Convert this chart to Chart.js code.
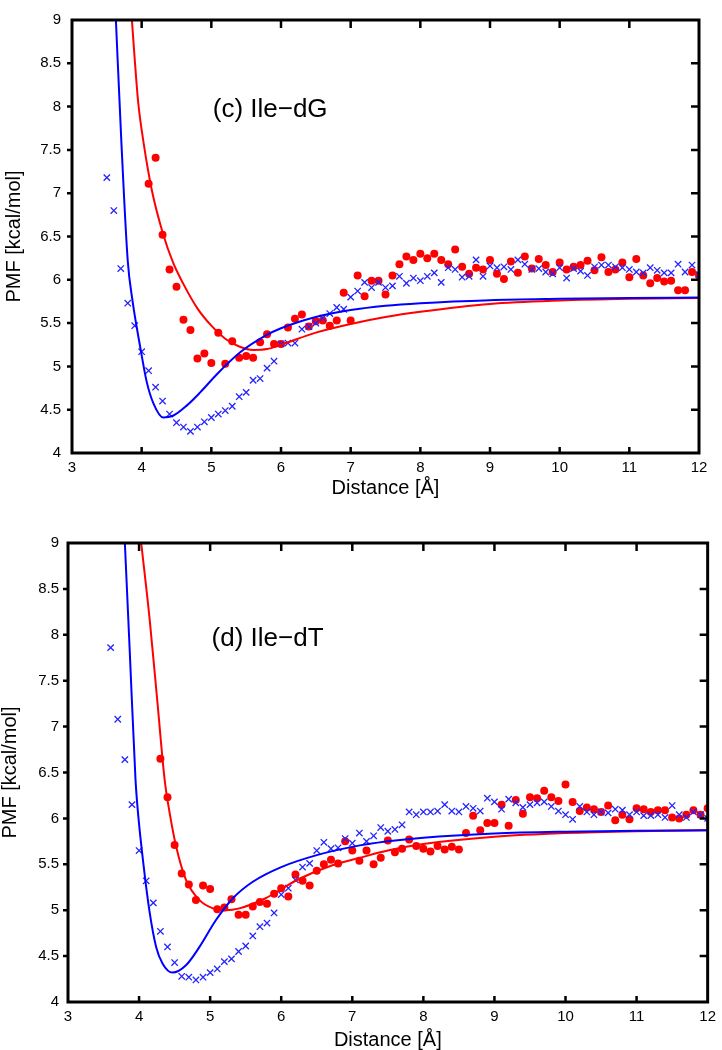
<!DOCTYPE html>
<html>
<head>
<meta charset="utf-8">
<title>PMF Ile-dG / Ile-dT</title>
<script src="https://cdn.jsdelivr.net/npm/chart.js@4.4.1/dist/chart.umd.min.js"></script>
<style>
    html, body { margin: 0; padding: 0; background: #fff; }
    .panel { position: absolute; left: 0; width: 722px; }
    #panelC { top: 0; height: 498px; }
    #panelD { top: 510px; height: 540px; }
</style>
</head>
<body>
<div class="panel" id="panelC"><canvas id="chartC"></canvas></div>
<div class="panel" id="panelD"><canvas id="chartD"></canvas></div>
<script>
// Distance grid of the sampled PMF points (Å)
const distGrid = [3.5, 3.6, 3.7, 3.8, 3.9, 4.0, 4.1, 4.2, 4.3, 4.4, 4.5, 4.6, 4.7, 4.8, 4.9,
    5.0, 5.1, 5.2, 5.3, 5.4, 5.5, 5.6, 5.7, 5.8, 5.9, 6.0, 6.1, 6.2, 6.3, 6.4, 6.5, 6.6, 6.7,
    6.8, 6.9, 7.0, 7.1, 7.2, 7.3, 7.4, 7.5, 7.6, 7.7, 7.8, 7.9, 8.0, 8.1, 8.2, 8.3, 8.4, 8.5,
    8.6, 8.7, 8.8, 8.9, 9.0, 9.1, 9.2, 9.3, 9.4, 9.5, 9.6, 9.7, 9.8, 9.9, 10.0, 10.1, 10.2,
    10.3, 10.4, 10.5, 10.6, 10.7, 10.8, 10.9, 11.0, 11.1, 11.2, 11.3, 11.4, 11.5, 11.6, 11.7,
    11.8, 11.9, 12.0];

// Tick labels
const distTicks = [3, 4, 5, 6, 7, 8, 9, 10, 11, 12];
const pmfTicks = [4, 4.5, 5, 5.5, 6, 6.5, 7, 7.5, 8, 8.5, 9];

// (c) Ile-dG : blue crosses from 3.5, red dots from 4.1
const cBlueX = distGrid;
const cBluePmf = [7.18, 6.80, 6.13, 5.73, 5.47, 5.17, 4.95, 4.76, 4.60, 4.45,
    4.35, 4.30, 4.25, 4.30, 4.36, 4.41, 4.45, 4.49, 4.54, 4.65,
    4.70, 4.84, 4.86, 4.98, 5.06, 5.26, 5.27, 5.27, 5.43, 5.46,
    5.50, 5.56, 5.61, 5.68, 5.66, 5.80, 5.87, 5.97, 5.91, 5.97,
    5.91, 5.93, 6.04, 5.96, 6.02, 5.99, 6.04, 6.08, 5.97, 6.14,
    6.12, 6.03, 6.04, 6.23, 6.04, 6.16, 6.14, 6.15, 6.12, 6.23,
    6.18, 6.12, 6.13, 6.09, 6.07, 6.14, 6.02, 6.13, 6.10, 6.05,
    6.15, 6.17, 6.17, 6.15, 6.14, 6.12, 6.09, 6.08, 6.14, 6.11,
    6.08, 6.08, 6.18, 6.09, 6.17, 6.06];
const cRedX = distGrid.slice(6);
const cRedPmf = [7.11, 7.41, 6.52, 6.12, 5.92, 5.54, 5.42, 5.09, 5.15, 5.04,
    5.39, 5.03, 5.29, 5.10, 5.12, 5.10, 5.28, 5.37, 5.26, 5.26,
    5.45, 5.55, 5.60, 5.46, 5.52, 5.53, 5.47, 5.53, 5.85, 5.53,
    6.05, 5.81, 5.99, 5.99, 5.83, 6.05, 6.18, 6.27, 6.23, 6.30,
    6.25, 6.30, 6.23, 6.18, 6.35, 6.15, 6.07, 6.14, 6.12, 6.23,
    6.07, 6.01, 6.21, 6.08, 6.27, 6.13, 6.24, 6.17, 6.09, 6.20,
    6.12, 6.15, 6.17, 6.22, 6.11, 6.26, 6.09, 6.12, 6.20, 6.03,
    6.24, 6.05, 5.96, 6.02, 5.98, 5.99, 5.88, 5.88, 6.09, 6.05];
// fitted curves
const cBlueFitX = [3.63, 3.71, 3.80, 3.87, 3.98, 4.07, 4.17, 4.31, 4.45, 4.65, 4.84, 5.08,
    5.41, 5.79, 6.0, 6.5, 7.0, 7.5, 8.0, 9.0, 10.0, 11.0, 12.0];
const cBlueFitPmf = [9.0, 7.57, 6.22, 5.75, 5.22, 4.83, 4.57, 4.41, 4.43, 4.55, 4.70, 4.91,
    5.16, 5.36, 5.44, 5.57, 5.65, 5.70, 5.73, 5.765, 5.78, 5.79, 5.795];
const cRedFitX = [3.86, 3.90, 3.95, 4.03, 4.15, 4.30, 4.45, 4.60, 4.80, 5.0, 5.2, 5.4, 5.6,
    5.8, 6.0, 6.5, 7.0, 7.5, 8.0, 9.0, 10.0, 11.0, 12.0];
const cRedFitPmf = [9.0, 8.55, 8.05, 7.57, 7.02, 6.55, 6.20, 5.95, 5.67, 5.47, 5.32, 5.23, 5.19,
    5.20, 5.25, 5.39, 5.49, 5.57, 5.63, 5.72, 5.76, 5.78, 5.79];

// (d) Ile-dT : blue crosses from 3.6, red dots from 4.3
const dBlueX = distGrid.slice(1);
const dBluePmf = [7.86, 7.08, 6.64, 6.15, 5.65, 5.32, 5.08, 4.77, 4.60, 4.43,
    4.28, 4.27, 4.24, 4.27, 4.32, 4.36, 4.44, 4.47, 4.55, 4.61,
    4.72, 4.82, 4.86, 4.97, 5.17, 5.24, 5.33, 5.47, 5.51, 5.65,
    5.74, 5.67, 5.68, 5.78, 5.73, 5.84, 5.75, 5.81, 5.90, 5.86,
    5.88, 5.93, 6.07, 6.04, 6.07, 6.07, 6.08, 6.15, 6.08, 6.07,
    6.13, 6.11, 6.08, 6.22, 6.18, 6.10, 6.21, 6.17, 6.12, 6.15,
    6.17, 6.18, 6.13, 6.08, 6.04, 5.99, 6.13, 6.07, 6.04, 6.07,
    6.06, 6.10, 6.09, 6.04, 6.07, 6.03, 6.03, 6.04, 6.01, 6.14,
    6.04, 6.01, 6.07, 6.04, 6.00];
const dRedX = distGrid.slice(8);
const dRedPmf = [6.65, 6.23, 5.71, 5.40, 5.28, 5.11, 5.27, 5.23, 5.01, 5.03,
    5.12, 4.95, 4.95, 5.04, 5.09, 5.07, 5.18, 5.24, 5.15, 5.39,
    5.32, 5.27, 5.43, 5.50, 5.55, 5.51, 5.75, 5.65, 5.54, 5.65,
    5.50, 5.57, 5.76, 5.63, 5.67, 5.77, 5.70, 5.67, 5.64, 5.70,
    5.66, 5.69, 5.66, 5.84, 6.03, 5.87, 5.95, 5.95, 6.15, 5.92,
    6.20, 6.05, 6.23, 6.22, 6.30, 6.23, 6.19, 6.37, 6.18, 6.08,
    6.12, 6.10, 6.07, 6.14, 5.98, 6.04, 5.99, 6.11, 6.10, 6.07,
    6.09, 6.09, 6.01, 6.00, 6.04, 6.09, 6.04, 6.11];
const dBlueFitX = [3.80, 3.87, 3.95, 3.985, 4.06, 4.15, 4.24, 4.33, 4.47, 4.66, 4.85, 5.08,
    5.32, 5.60, 6.0, 6.5, 7.0, 7.5, 8.0, 9.0, 10.0, 11.0, 12.0];
const dBlueFitPmf = [9.0, 7.80, 6.42, 6.06, 5.51, 4.97, 4.60, 4.42, 4.32, 4.40, 4.60, 4.89,
    5.13, 5.31, 5.47, 5.60, 5.69, 5.75, 5.79, 5.835, 5.855, 5.865, 5.87];
const dRedFitX = [4.03, 4.15, 4.26, 4.36, 4.43, 4.52, 4.66, 4.85, 5.04, 5.22, 5.41, 5.78,
    6.0, 6.25, 6.72, 7.1, 7.5, 8.0, 9.0, 10.0, 11.0, 12.0];
const dRedFitPmf = [9.0, 8.16, 7.25, 6.42, 6.06, 5.70, 5.33, 5.11, 5.02, 5.00, 5.02, 5.13,
    5.23, 5.34, 5.49, 5.57, 5.65, 5.72, 5.80, 5.84, 5.86, 5.87];

const BLUE = '#0000ff';
const RED = '#ff0000';
Chart.defaults.font.family = '"Liberation Sans", Arial, sans-serif';
Chart.defaults.color = '#000';

function pts(xs, ys) {
    return ys.map((v, i) => ({ x: xs[i], y: v }));
}

// frame, inner tick marks and the panel label
const frameTicks = {
    id: 'frameTicks',
    afterDatasetsDraw(chart, args, opts) {
        const { ctx, chartArea: a, scales: { x, y } } = chart;
        ctx.save();
        ctx.strokeStyle = '#000';
        ctx.lineWidth = 2.5;
        ctx.beginPath();
        distTicks.slice(1, -1).forEach(v => {
            const px = x.getPixelForValue(v);
            ctx.moveTo(px, a.bottom); ctx.lineTo(px, a.bottom - 6);
            ctx.moveTo(px, a.top); ctx.lineTo(px, a.top + 8);
        });
        pmfTicks.slice(1, -1).forEach(v => {
            const py = y.getPixelForValue(v);
            ctx.moveTo(a.left, py); ctx.lineTo(a.left - 5, py);
            ctx.moveTo(a.right, py); ctx.lineTo(a.right - 8, py);
        });
        ctx.stroke();
        ctx.lineWidth = 3;
        ctx.strokeRect(a.left, a.top, a.right - a.left, a.bottom - a.top);

        ctx.fillStyle = '#000';
        ctx.font = '26px "Liberation Sans", Arial, sans-serif';
        ctx.textBaseline = 'alphabetic';
        ctx.fillText(opts.label, x.getPixelForValue(5.02), y.getPixelForValue(7.88));
        ctx.restore();
    }
};

function makeChart(id, d) {
    return new Chart(document.getElementById(id), {
        type: 'scatter',
        data: {
            datasets: [
                {
                    data: pts(d.blueFitX, d.blueFitY), showLine: true, pointRadius: 0,
                    borderColor: BLUE, borderWidth: 2, cubicInterpolationMode: 'monotone'
                },
                {
                    data: pts(d.redFitX, d.redFitY), showLine: true, pointRadius: 0,
                    borderColor: RED, borderWidth: 2, cubicInterpolationMode: 'monotone'
                },
                {
                    data: pts(d.blueX, d.blueY), pointStyle: 'crossRot', pointRadius: 4.5,
                    borderColor: '#2424ff', borderWidth: 1.3, backgroundColor: '#2424ff'
                },
                {
                    data: pts(d.redX, d.redY), pointStyle: 'circle', pointRadius: 4,
                    borderWidth: 0, backgroundColor: RED
                }
            ]
        },
        options: {
            responsive: true,
            maintainAspectRatio: false,
            animation: false,
            layout: { padding: d.pad },
            plugins: {
                legend: { display: false },
                tooltip: { enabled: false },
                frameTicks: { label: d.label }
            },
            scales: {
                x: {
                    type: 'linear', min: 3, max: 12,
                    grid: { display: false, drawTicks: false },
                    border: { display: false },
                    afterBuildTicks: s => { s.ticks = distTicks.map(v => ({ value: v })); },
                    afterFit: s => { s.height = d.xh; },
                    ticks: { padding: 6, font: { size: 15 }, maxRotation: 0, autoSkip: false,
                        callback: v => String(v) },
                    title: { display: true, text: 'Distance [Å]', font: { size: 20, lineHeight: 1 }, padding: 0 }
                },
                y: {
                    type: 'linear', min: 4, max: 9,
                    grid: { display: false, drawTicks: false },
                    border: { display: false },
                    afterBuildTicks: s => { s.ticks = pmfTicks.map(v => ({ value: v })); },
                    afterFit: s => { s.width = d.yw; },
                    ticks: { padding: d.ypad, font: { size: 15 }, autoSkip: false,
                        callback: v => String(v) },
                    title: { display: true, text: 'PMF [kcal/mol]', font: { size: 20, lineHeight: 1 },
                        padding: { top: d.ytp, bottom: 0 } }
                }
            }
        },
        plugins: [frameTicks]
    });
}

makeChart('chartC', {
    label: '(c) Ile\u2212dG',
    blueX: cBlueX, blueY: cBluePmf, redX: cRedX, redY: cRedPmf,
    blueFitX: cBlueFitX, blueFitY: cBlueFitPmf, redFitX: cRedFitX, redFitY: cRedFitPmf,
    pad: { left: 0, top: 5, right: 23, bottom: 0 }, xh: 45, yw: 72, ypad: 11, ytp: 4
});

makeChart('chartD', {
    label: '(d) Ile\u2212dT',
    blueX: dBlueX, blueY: dBluePmf, redX: dRedX, redY: dRedPmf,
    blueFitX: dBlueFitX, blueFitY: dBlueFitPmf, redFitX: dRedFitX, redFitY: dRedFitPmf,
    pad: { left: 0, top: 33, right: 11, bottom: 0 }, xh: 48, yw: 68, ypad: 9, ytp: 0
});
</script>
</body>
</html>
